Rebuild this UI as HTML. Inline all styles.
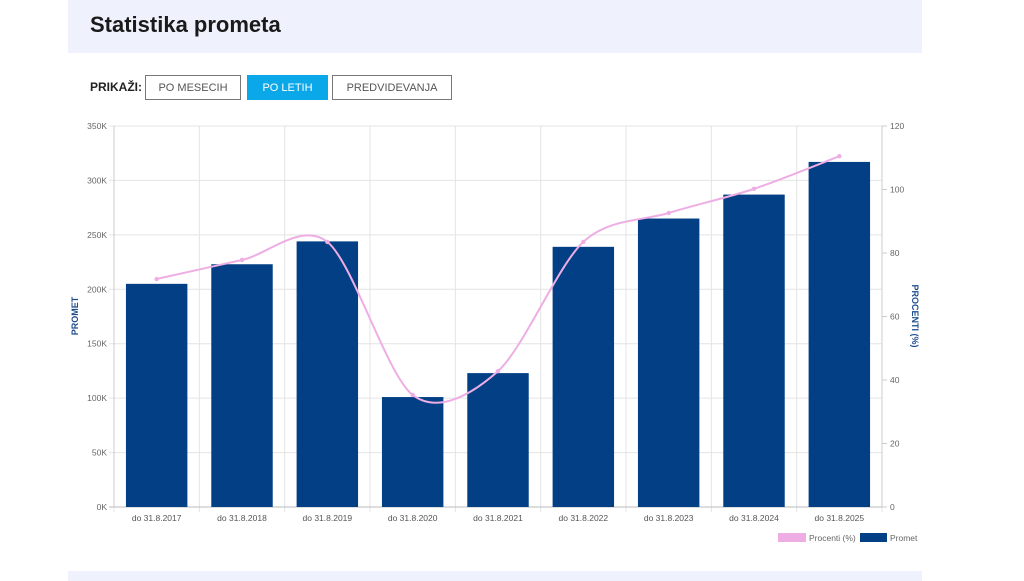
<!DOCTYPE html>
<html><head><meta charset="utf-8"><style>
body{margin:0;width:1024px;height:581px;background:#fff;font-family:"Liberation Sans",sans-serif;overflow:hidden;position:relative}
.hdr{position:absolute;left:68px;top:0;width:854px;height:53px;background:#eff1fc}
.hdr h1{margin:0;position:absolute;left:22px;top:12px;font-size:22px;font-weight:bold;color:#1a1a1a}
.foot{position:absolute;left:68px;top:571px;width:854px;height:10px;background:#eff1fc}
.lbl{position:absolute;left:90px;top:80px;font-size:12px;font-weight:bold;color:#222}
.btn{position:absolute;top:75px;height:23px;border:1px solid #777;background:#fff;font-size:11px;color:#555;text-align:center;line-height:25px;box-sizing:content-box}
.btn.on{background:#0aa8e8;border-color:#0aa8e8;color:#fff}
svg{position:absolute;left:0;top:0}
</style></head><body>
<div class="hdr"><h1>Statistika prometa</h1></div>
<div class="lbl">PRIKAŽI:</div>
<div class="btn" style="left:145px;width:94px">PO MESECIH</div>
<div class="btn on" style="left:247px;width:79px">PO LETIH</div>
<div class="btn" style="left:332px;width:118px">PREDVIDEVANJA</div>
<div class="foot"></div>
<svg id="c" width="1024" height="581"></svg>
<script>
const categories=["do 31.8.2017","do 31.8.2018","do 31.8.2019","do 31.8.2020","do 31.8.2021","do 31.8.2022","do 31.8.2023","do 31.8.2024","do 31.8.2025"];
const prometValues=[205000,223000,244000,101000,123000,239000,265000,287000,317000];
const procentiValues=[71.8,77.8,83.5,35.3,42.8,83.5,92.6,100.2,110.5];
const leftTicks=[0,50000,100000,150000,200000,250000,300000,350000];
const leftTickLabels=["0K","50K","100K","150K","200K","250K","300K","350K"];
const rightTicks=[0,20,40,60,80,100,120];

const L=114,R=882,T=126,B=507;
const svg=document.getElementById('c');const NS="http://www.w3.org/2000/svg";
function mk(t,a,txt){const e=document.createElementNS(NS,t);for(const k in a)e.setAttribute(k,a[k]);if(txt!==undefined)e.textContent=txt;svg.appendChild(e);return e;}
const bw=(R-L)/categories.length;
const xC=i=>L+bw*(i+0.5);
const yL=v=>B-(v/350000)*(B-T);
const yR=v=>B-(v/120)*(B-T);
for(let i=0;i<=categories.length;i++){const x=L+bw*i;const g=mk('line',{x1:x,x2:x,y1:T,y2:B+5,stroke:'#e4e4e4'});}
leftTicks.forEach((v,i)=>{const y=yL(v);const g=mk('line',{x1:L-5,x2:R,y1:y,y2:y,stroke:i==0?'#bbb':'#e4e4e4'});
const t=mk('text',{x:L-7,y:y+3,'text-anchor':'end','font-size':8.5,fill:'#666'},leftTickLabels[i]);});
rightTicks.forEach(v=>{const y=yR(v);mk('line',{x1:R,x2:R+5,y1:y,y2:y,stroke:'#ccc'});const t=mk('text',{x:R+8,y:y+3,'font-size':8.5,fill:'#666'},v);});
mk('line',{x1:L,x2:L,y1:T,y2:B,stroke:'#ccc'});mk('line',{x1:R,x2:R,y1:T,y2:B,stroke:'#ccc'});
prometValues.forEach((v,i)=>{const r=mk('rect',{x:xC(i)-bw*0.36,y:yL(v),width:bw*0.72,height:B-yL(v),fill:'#023f85'});});
categories.forEach((c,i)=>{const t=mk('text',{x:xC(i),y:B+14,'text-anchor':'middle','font-size':8.5,fill:'#555'},c);});
const pts=procentiValues.map((v,i)=>[xC(i),yR(v)]);
let d='M'+pts[0][0]+','+pts[0][1];const tn=0.3;
for(let i=0;i<pts.length-1;i++){const p0=pts[i-1]||pts[i],p1=pts[i],p2=pts[i+1],p3=pts[i+2]||p2;
const c1=[p1[0]+(p2[0]-p0[0])*tn/2,p1[1]+(p2[1]-p0[1])*tn/2];const c2=[p2[0]-(p3[0]-p1[0])*tn/2,p2[1]-(p3[1]-p1[1])*tn/2];
d+=` C${c1[0]},${c1[1]} ${c2[0]},${c2[1]} ${p2[0]},${p2[1]}`;}
const ln=mk('path',{d:d,fill:'none',stroke:'#eeaee4','stroke-width':2});
pts.forEach(p=>{const c=mk('circle',{cx:p[0],cy:p[1],r:2.2,fill:'#eeaee4'});});
const a1=mk('text',{x:78,y:316,transform:'rotate(-90 78 316)','text-anchor':'middle','font-size':9,'font-weight':'bold',fill:'#1e4d8c'},'PROMET');
const a2=mk('text',{x:912,y:316,transform:'rotate(90 912 316)','text-anchor':'middle','font-size':9,'font-weight':'bold',fill:'#1e4d8c'},'PROCENTI (%)');
const l1=mk('rect',{x:778,y:533,width:28,height:9,fill:'#eeaee4'});
mk('text',{x:809,y:541,'font-size':8.5,fill:'#666'},'Procenti (%)');
const l2=mk('rect',{x:860,y:533,width:27,height:9,fill:'#023f85'});
mk('text',{x:890,y:541,'font-size':8.5,fill:'#666'},'Promet');
</script>
</body></html>
